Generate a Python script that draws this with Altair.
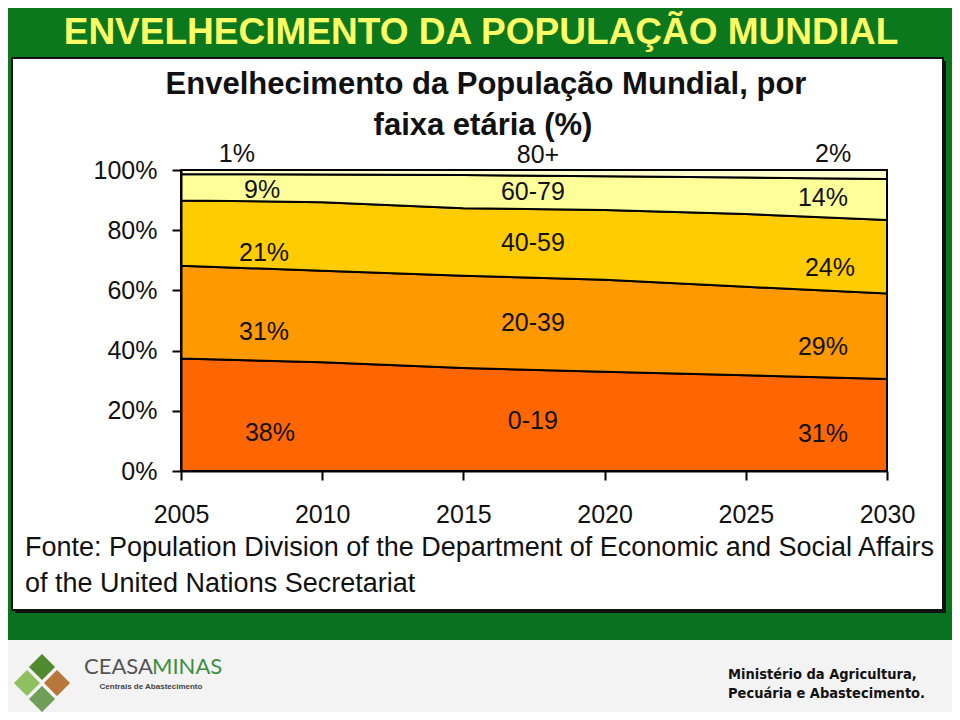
import altair as alt
import pandas as pd

# ---------------- data ----------------
years = [2005, 2010, 2015, 2020, 2025, 2030]
groups = ["0-19", "20-39", "40-59", "60-79", "80+"]
share_0_19 = [37.4, 36.1, 34.2, 33.0, 31.8, 30.6]
share_20_39 = [30.8, 30.4, 30.7, 30.5, 29.4, 28.4]
share_40_59 = [21.7, 22.8, 22.4, 23.2, 24.2, 24.4]
share_60_79 = [8.7, 9.2, 11.0, 11.2, 12.1, 13.6]
share_80p = [1.4, 1.5, 1.7, 2.1, 2.5, 3.0]
band_colors = ["#ff6600", "#ff9900", "#ffcc00", "#ffff99", "#ffffcc"]

y_ticks = [0, 20, 40, 60, 80, 100]
x_ticks = [2005, 2010, 2015, 2020, 2025, 2030]

label_texts = ["1%", "9%", "21%", "31%", "38%",
               "80+", "60-79", "40-59", "20-39", "0-19",
               "2%", "14%", "24%", "29%", "31%"]
label_years = [2006.98, 2007.87, 2007.94, 2007.94, 2008.15,
               2017.64, 2017.46, 2017.46, 2017.46, 2017.46,
               2028.09, 2027.73, 2027.98, 2027.73, 2027.73]
label_pos = [105.4, 93.4, 72.4, 46.2, 12.6,
             104.9, 92.7, 75.7, 49.2, 16.6,
             105.4, 90.7, 67.4, 41.2, 12.3]

slide_title = "ENVELHECIMENTO DA POPULAÇÃO MUNDIAL"
chart_title_1 = "Envelhecimento da População Mundial, por"
chart_title_2 = "faixa etária (%)"
source_1 = "Fonte: Population Division of the Department of Economic and Social Affairs"
source_2 = "of the United Nations Secretariat"

# ---------------- build tables ----------------
series = [share_0_19, share_20_39, share_40_59, share_60_79, share_80p]
rows = []
for gi, (g, vals) in enumerate(zip(groups, series)):
    for y, v in zip(years, vals):
        rows.append({"year": y, "group": g, "idx": gi, "share": v})
df = pd.DataFrame(rows)
labels_df = pd.DataFrame({"year": label_years, "share": label_pos, "txt": label_texts})

GREEN = "#0b781e"
FONT = "Liberation Sans, Arial, sans-serif"
NARROW = "Liberation Sans Narrow, Arial Narrow, DejaVu Sans Condensed, sans-serif"

xscale = alt.Scale(domain=[2005, 2030], nice=False, zero=False)
yscale = alt.Scale(domain=[0, 100], nice=False)

one = pd.DataFrame({"a": [0]})


def text_at(txt, x, y, size, color="#000000", weight="normal", font=FONT, align="left"):
    return alt.Chart(pd.DataFrame({"t": [txt]})).mark_text(
        align=align, baseline="middle", fontSize=size, fontWeight=weight,
        font=font, color=color
    ).encode(x=alt.value(x), y=alt.value(y), text="t:N")


def rect_at(x, x2, y, y2, fill, stroke=None, sw=0):
    kw = dict(fill=fill)
    if stroke:
        kw.update(stroke=stroke, strokeWidth=sw)
    return alt.Chart(one).mark_rect(**kw).encode(
        x=alt.value(x), x2=alt.value(x2), y=alt.value(y), y2=alt.value(y2))


def diamond_at(x, y, color):
    return alt.Chart(one).mark_point(
        shape="diamond", filled=True, size=840, color=color, opacity=1,
        stroke="#f3f3f3", strokeWidth=2
    ).encode(x=alt.value(x), y=alt.value(y))


# ---------------- decoration (slide) ----------------
footer = rect_at(-173, 771, 470, 542, "#f3f3f3")
dark_band = rect_at(-173, 771, 441, 470, "#097020")
shadow = rect_at(-166, 765, -109, 443, "#111111")
white_box = rect_at(-169, 762, -112, 440, "#ffffff", "#111111", 2)

title_slide = text_at(slide_title, 300, -137, 37, "#ffff66", "bold", align="center")
title_1 = text_at(chart_title_1, 305, -85, 31, "#111111", "bold", align="center")
title_2 = text_at(chart_title_2, 302, -44, 31, "#111111", "bold", align="center")
src_1 = text_at(source_1, -156, 378, 27, "#111111")
src_2 = text_at(source_2, -156, 414, 27, "#111111")

logo = [
    diamond_at(-139, 497, "#4f8a2e"),
    diamond_at(-154, 513, "#8fc060"),
    diamond_at(-124, 513, "#b8763a"),
    diamond_at(-139, 529, "#6e9e58"),
]
ceasa = text_at("CEASA", -97, 497, 22, "#555555", font="Lato, sans-serif")
minas = text_at("MINAS", -29, 497, 22, "#3f8f3f", font="Lato, sans-serif")
centrais = text_at("Centrais de Abastecimento", -30, 517, 8, "#444444", "bold", align="center")
min_1 = text_at("Ministério da Agricultura,", 547, 505, 14.5, "#111111", "bold", font=NARROW)
min_2 = text_at("Pecuária e Abastecimento.", 547, 524, 14.5, "#111111", "bold", font=NARROW)

# ---------------- chart ----------------
areas = alt.Chart(df).mark_area(
    stroke="#000000", strokeWidth=2, opacity=1, interpolate="linear"
).encode(
    x=alt.X("year:Q", scale=xscale,
            axis=alt.Axis(values=x_ticks, format="d", title=None, labelPadding=22, zindex=2)),
    y=alt.Y("share:Q", stack="zero", scale=yscale,
            axis=alt.Axis(values=y_ticks, labelExpr="datum.value + '%'", title=None,
                          labelPadding=15, zindex=2)),
    color=alt.Color("group:N", scale=alt.Scale(domain=groups, range=band_colors), legend=None),
    order=alt.Order("idx:Q"),
)

labels = alt.Chart(labels_df).mark_text(
    align="center", baseline="middle", fontSize=25, font=FONT, color="#111111"
).encode(
    x=alt.X("year:Q", scale=xscale),
    y=alt.Y("share:Q", scale=yscale),
    text="txt:N",
)

chart = alt.layer(
    footer, dark_band, shadow, white_box, *logo, ceasa, minas, centrais, min_1, min_2,
    title_slide, title_1, title_2, src_1, src_2,
    areas, labels,
).properties(
    width=706, height=301,
    autosize=alt.AutoSizeParams(type="none"),
    padding={"left": 173, "top": 162, "right": 65, "bottom": 241},
    background=GREEN,
).configure_view(
    stroke=None
).configure_axis(
    grid=False, domainColor="#000000", domainWidth=2, tickColor="#000000",
    tickWidth=2, tickSize=9, labelFont=FONT, labelFontSize=25, labelColor="#111111",
    labelOverlap=False, labelFlush=False,
)

chart.save("out.html", embed_options={"renderer": "svg", "actions": False})
